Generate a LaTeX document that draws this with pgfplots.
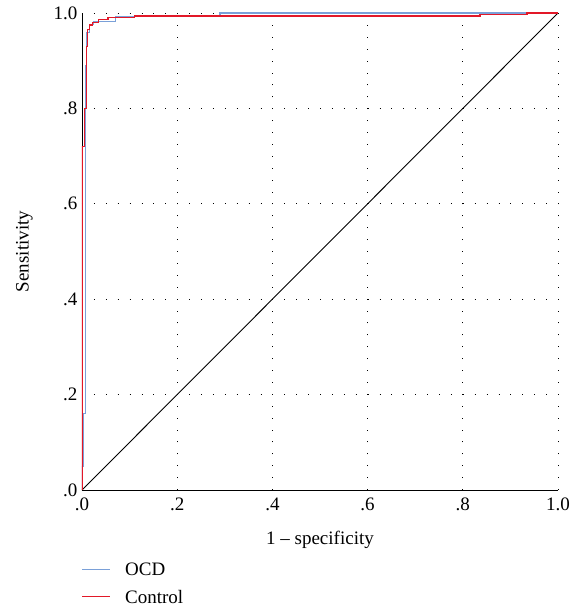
\documentclass[border=0pt]{standalone}
\usepackage{fontspec}
\setmainfont{Liberation Serif}
\usepackage{pgfplots}
\pgfplotsset{compat=1.18}

\definecolor{ocdblue}{RGB}{122,160,216}
\definecolor{ctrlred}{RGB}{226,24,40}

\begin{document}
\begin{tikzpicture}[x=1pt,y=1pt]
\path[use as bounding box] (-82,-122) rectangle (498,490);
\begin{axis}[
  at={(0,0)}, anchor=south west,
  width=476pt, height=477pt, scale only axis,
  xmin=0, xmax=1, ymin=0, ymax=1,
  axis x line*=bottom, axis y line*=left,
  axis line style={black, line width=0.8pt, -},
  xtick={0,0.2,0.4,0.6,0.8,1}, ytick={0,0.2,0.4,0.6,0.8,1},
  xticklabels={.0,.2,.4,.6,.8,1.0}, yticklabels={.0,.2,.4,.6,.8,1.0},
  major tick length=0pt,
  xmajorgrids, ymajorgrids,
  grid style={black, line width=0.8pt, dash pattern=on 0.9pt off 11pt},
  tick label style={font=\fontsize{19}{22}\selectfont},
  xticklabel style={yshift=-4pt},
  yticklabel style={xshift=-1pt},
  label style={font=\fontsize{19}{22}\selectfont},
  xlabel={1 – specificity},
  ylabel={Sensitivity},
  xlabel style={yshift=-14pt},
  ylabel style={yshift=14pt},
  legend style={at={(axis description cs:0,0)}, anchor=north west,
    yshift=-70pt, xshift=-3pt, draw=none, fill=none,
    font=\fontsize{19}{22}\selectfont, row sep=11pt,
    nodes={inner xsep=0pt, inner ysep=1pt}},
  legend cell align=left,
]
\addlegendimage{empty legend}
\addlegendentry{\textcolor{ocdblue}{\rule[0.32em]{28pt}{1.1pt}}\hspace{15pt}OCD}
\addlegendimage{empty legend}
\addlegendentry{\textcolor{ctrlred}{\rule[0.32em]{28pt}{1.4pt}}\hspace{15pt}Control}

% diagonal reference
\addplot[black, line width=0.9pt, forget plot] coordinates {(0,0) (1,1)};

% OCD
\addplot[ocdblue, line width=1.1pt, forget plot] coordinates {
(0,0) (0,0.05) (0.003,0.05) (0.003,0.16) (0.007,0.16) (0.007,0.89)
(0.010,0.89) (0.010,0.96) (0.015,0.96) (0.015,0.975) (0.025,0.975)
(0.025,0.982) (0.07,0.982) (0.07,0.993) (0.29,0.993) (0.29,1.0) (1,1)};

% Control
\addplot[ctrlred, line width=1.4pt, forget plot] coordinates {
(0,0) (0,0.72) (0.005,0.72) (0.005,0.80) (0.009,0.80) (0.009,0.93)
(0.012,0.93) (0.012,0.965) (0.016,0.965) (0.016,0.975) (0.022,0.975)
(0.022,0.980) (0.035,0.980) (0.035,0.986) (0.055,0.986) (0.055,0.990)
(0.11,0.990) (0.11,0.994) (0.836,0.994) (0.836,0.997) (0.935,0.997)
(0.935,1.0) (1,1)};
\end{axis}
\end{tikzpicture}
\end{document}
